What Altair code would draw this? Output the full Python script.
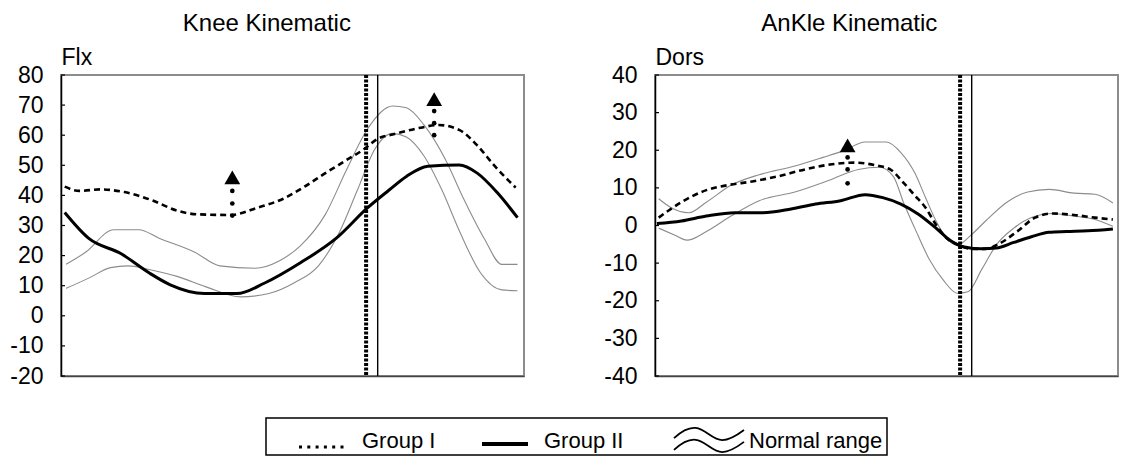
import altair as alt
import pandas as pd

FONT = "Liberation Sans"

# ---------------- data (x = % of gait cycle) ----------------
knee_g1_x = [0.8, 4, 8.4, 13.7, 19.8, 25.1, 29.7, 36.6, 42.6, 48, 52.6, 57.1, 61.3, 65.5, 68.5, 71.6, 77.7, 81.5, 86.1, 89.9, 93.7, 98.2]
knee_g1_y = [42.9, 41.5, 42, 41.1, 38.3, 34.9, 33.7, 33.5, 36, 38.9, 42.9, 47.4, 51.4, 55.4, 58.9, 60.2, 62.5, 63.4, 61.7, 56.6, 49.7, 42.6]

knee_g2_x = [0.8, 6, 13, 19, 23.6, 31, 38, 44, 51.8, 59.4, 66.3, 70.8, 74.6, 79.2, 86, 89.9, 94.4, 98.6]
knee_g2_y = [34.3, 25.7, 20.6, 14.3, 10.3, 7.4, 7.4, 10.9, 17.7, 25.7, 36, 41.7, 46.3, 49.7, 50.1, 47.4, 40.6, 32.6]

knee_nu_x = [1.1, 5.3, 11.4, 16.8, 21.3, 28.9, 34.3, 41.9, 47.2, 51.8, 57.1, 61.7, 66.3, 71.6, 74.6, 78.4, 83, 86.8, 91.4, 95.2, 98.6]
knee_nu_y = [17.1, 21.1, 28.6, 28.6, 25.7, 21.1, 16.6, 15.8, 18.3, 23.4, 33.7, 48.6, 62.3, 69.7, 69.1, 63.4, 52, 39.4, 25.7, 17.1, 17.1]

knee_nl_x = [1.1, 6.1, 10.7, 14.5, 19, 25.1, 31.2, 38.8, 44.9, 50.3, 55.6, 60.2, 64, 67.8, 71.6, 74.6, 78.4, 82.3, 86.1, 90.6, 95.2, 98.6]
knee_nl_y = [9.1, 12.6, 16, 16.6, 15.4, 13.1, 9.7, 6.3, 7.4, 10.9, 16.6, 28, 41.7, 55.4, 60.6, 59.4, 53.1, 41.7, 28, 14.3, 8.6, 8.3]

ankle_g1_x = [0.8, 5.7, 11.1, 15.6, 21, 26.3, 32.4, 37.8, 43.1, 47.7, 50.8, 53.8, 56.1, 58.4, 60.7, 63, 65.6, 68.3, 71.4, 74.4, 78.2, 82.1, 85.9, 90.5, 95, 98.9]
ankle_g1_y = [2.1, 6.2, 9.4, 10.7, 11.7, 13, 14.9, 16.2, 16.7, 16, 14.9, 11.2, 8, 4.8, 0.2, -3.4, -5.2, -6.2, -6.2, -4.8, -1.6, 2.1, 3.2, 2.8, 2.1, 1.6]

ankle_g2_x = [0.4, 5.7, 11.1, 17.2, 23.3, 29.4, 34.7, 40.1, 45.4, 49.2, 53.1, 56.9, 60.7, 63.7, 66.8, 70.6, 73.7, 77.5, 81.3, 85.1, 88.9, 93.5, 98.9]
ankle_g2_y = [0.5, 1.2, 2.5, 3.4, 3.4, 4.4, 5.7, 6.6, 8.2, 7.4, 5.7, 3, -0.7, -3.9, -5.7, -6.2, -6, -4.5, -3, -1.8, -1.6, -1.4, -0.9]

ankle_nu_x = [0.8, 3.4, 7.3, 11.1, 16.4, 22.5, 30.2, 36.3, 40.8, 45.4, 50, 53.1, 56.1, 58.4, 60.7, 63, 65.3, 68.3, 71.4, 76, 80.5, 85.1, 90.5, 95, 98.9]
ankle_nu_y = [7.1, 4.8, 3.4, 6.2, 10.7, 13.5, 15.8, 18.1, 19.9, 22.2, 22.2, 19.4, 14, 7.5, 1.2, -3.4, -5.2, -2.5, 1.2, 6.2, 8.9, 9.6, 8.6, 8.3, 6]

ankle_nl_x = [0.8, 4.2, 6.9, 11.1, 16.4, 22.5, 30.2, 37.8, 43.9, 48.5, 51.5, 53.8, 56.1, 59.2, 62.2, 65.3, 67.6, 70.6, 73.7, 77.5, 81.3, 85.9, 90.5, 95, 98.9]
ankle_nl_y = [-0.7, -2.5, -3.9, -1.6, 2.5, 6.6, 8.9, 12.1, 14.9, 15.5, 13, 5.7, -0.7, -8.9, -14.4, -18, -17.6, -11.6, -5.2, -0.7, 2.1, 3.2, 2.5, 1.6, -0.2]

# event lines (toe-off) : Group I dotted, Group II solid
event_dotted_x = [65.9]
event_solid_x = [68.4]

# significance arrows
knee_tri_x = [37.0, 80.6]
knee_tri_y = [46.0, 72.0]
knee_dot_x = [37.0, 37.0, 37.0, 80.6, 80.6, 80.6]
knee_dot_y = [41.5, 37.3, 33.3, 68.0, 64.0, 60.0]

ankle_tri_x = [41.6]
ankle_tri_y = [21.3]
ankle_dot_x = [41.6, 41.6, 41.6]
ankle_dot_y = [18.1, 14.9, 11.2]

knee_ticks = [-20, -10, 0, 10, 20, 30, 40, 50, 60, 70, 80]
ankle_ticks = [-40, -30, -20, -10, 0, 10, 20, 30, 40]

legend_labels = ["Group I", "Group II", "Normal range"]

PW = 463   # plot width
PH = 301   # plot height


def df(xs, ys):
    return pd.DataFrame({"x": xs, "v": ys})


def panel(title, ytitle, ydom, yticks, g1, g2, nu, nl, tri, dots, tdx):
    xenc = alt.X("x:Q", scale=alt.Scale(domain=[0, 100], nice=False, zero=False),
                 axis=alt.Axis(labels=False, ticks=False, grid=False, title=None,
                               domainColor="#444444", domainWidth=1.5))
    yenc = alt.Y("v:Q", scale=alt.Scale(domain=ydom, nice=False, zero=False),
                 axis=alt.Axis(values=yticks, grid=False, ticks=False, tickSize=0,
                               labelPadding=18, labelFontSize=23, labelFont=FONT,
                               labelColor="black", labelFlush=False,
                               labelExpr="'' + datum.value",
                               domainColor="black", domainWidth=1.5,
                               title=ytitle, titleAngle=0, titleAlign="left",
                               titleBaseline="alphabetic", titleX=0, titleY=-11,
                               titleFontSize=23, titleFont=FONT,
                               titleFontWeight="normal", titleColor="black"))
    layers = [
        alt.Chart(df(*nu)).mark_line(color="#8c8c8c", strokeWidth=1.1, interpolate="monotone").encode(x=xenc, y=yenc),
        alt.Chart(df(*nl)).mark_line(color="#8c8c8c", strokeWidth=1.1, interpolate="monotone").encode(x=xenc, y=yenc),
        alt.Chart(df(*g2)).mark_line(color="black", strokeWidth=3, interpolate="monotone").encode(x=xenc, y=yenc),
        alt.Chart(df(*g1)).mark_line(color="black", strokeWidth=2.6, strokeDash=[6, 4], interpolate="monotone").encode(x=xenc, y=yenc),
        alt.Chart(pd.DataFrame({"x": event_dotted_x})).mark_rule(color="black", strokeWidth=4, strokeDash=[3, 1.5]).encode(x=xenc),
        alt.Chart(pd.DataFrame({"x": event_solid_x})).mark_rule(color="black", strokeWidth=1.4).encode(x=xenc),
        alt.Chart(df(*dots)).mark_circle(color="black", size=22, opacity=1).encode(x=xenc, y=yenc),
        alt.Chart(df(*tri)).mark_point(shape="triangle-up", filled=True, color="black", size=250, opacity=1).encode(x=xenc, y=yenc),
        alt.Chart(pd.DataFrame({"v": yticks})).mark_rule(color="black", strokeWidth=1.2).encode(
            y=yenc, x=alt.value(0), x2=alt.value(4)),
    ]
    return alt.layer(*layers).properties(
        width=PW, height=PH,
        title=alt.TitleParams(title, fontSize=24, font=FONT, fontWeight="normal", color="black",
                              anchor="middle", frame="bounds", offset=-8.5, baseline="alphabetic",
                              dx=tdx),
    )


knee = panel("Knee Kinematic", "Flx", [-20, 80], knee_ticks,
             (knee_g1_x, knee_g1_y), (knee_g2_x, knee_g2_y),
             (knee_nu_x, knee_nu_y), (knee_nl_x, knee_nl_y),
             (knee_tri_x, knee_tri_y), (knee_dot_x, knee_dot_y), 0)
ankle = panel("AnKle Kinematic", "Dors", [-40, 40], ankle_ticks,
              (ankle_g1_x, ankle_g1_y), (ankle_g2_x, ankle_g2_y),
              (ankle_nu_x, ankle_nu_y), (ankle_nl_x, ankle_nl_y),
              (ankle_tri_x, ankle_tri_y), (ankle_dot_x, ankle_dot_y), -12)

# ---------------- legend (origin = left edge of the knee plot) ----------------
base = alt.Chart(pd.DataFrame({"k": [0]}))
wave = ("M -1 -0.07 C -0.75 -0.3 -0.55 -0.38 -0.38 -0.36 C -0.1 -0.33 0.1 -0.01 0.38 -0.01 "
        "C 0.6 -0.01 0.8 -0.15 1 -0.3 "
        "M -1 0.27 C -0.75 0.04 -0.55 -0.04 -0.38 -0.02 C -0.1 0.01 0.1 0.33 0.38 0.33 "
        "C 0.6 0.33 0.8 0.19 1 0.04")
LH = 37
legend = alt.layer(
    base.mark_rect(filled=False, stroke="black", strokeWidth=1.5).encode(
        x=alt.value(205), x2=alt.value(826), y=alt.value(0), y2=alt.value(LH)),
    base.mark_rule(color="black", strokeWidth=3, strokeDash=[3, 5.3]).encode(
        x=alt.value(238), x2=alt.value(287), y=alt.value(29)),
    base.mark_text(text=legend_labels[0], align="left", baseline="alphabetic", fontSize=22, font=FONT, color="black").encode(
        x=alt.value(301), y=alt.value(30)),
    base.mark_rule(color="black", strokeWidth=4).encode(
        x=alt.value(421), x2=alt.value(467), y=alt.value(26)),
    base.mark_text(text=legend_labels[1], align="left", baseline="alphabetic", fontSize=22, font=FONT, color="black").encode(
        x=alt.value(483), y=alt.value(30)),
    base.mark_point(shape=wave, size=4900, filled=False, stroke="black", strokeWidth=1.8, opacity=1).encode(
        x=alt.value(648), y=alt.value(22.5)),
    base.mark_text(text=legend_labels[2], align="left", baseline="alphabetic", fontSize=22, font=FONT, color="black").encode(
        x=alt.value(688), y=alt.value(30)),
).properties(width=827, height=LH, view=alt.ViewBackground(stroke="transparent"))

chart = alt.vconcat(
    alt.hconcat(knee, ankle, spacing=77),
    legend,
    spacing=27,
).properties(
    padding={"left": 0, "top": 2, "right": 0, "bottom": 0},
).configure_view(stroke="#8c8c8c", strokeWidth=2)

chart.save("out.html", embed_options={"renderer": "svg", "actions": False})
